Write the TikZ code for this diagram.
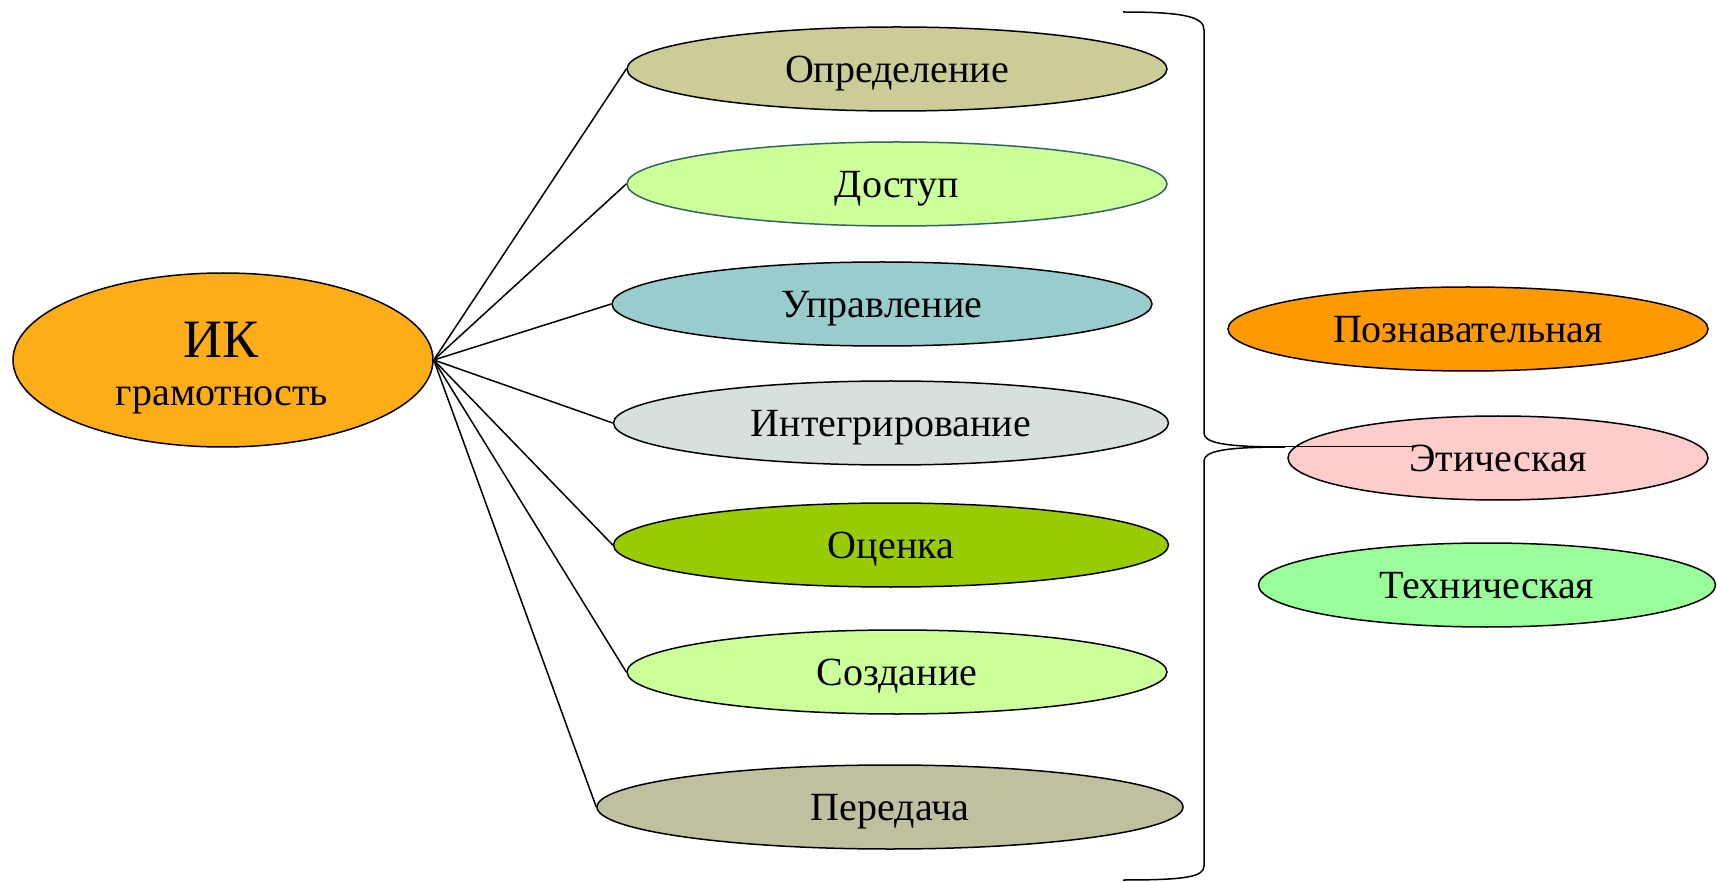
\documentclass[tikz,border=0pt]{standalone}
\usepackage{fontspec}
\setmainfont{Liberation Serif}
\usetikzlibrary{shapes.geometric}
\definecolor{cIK}{RGB}{252,173,24}
\definecolor{cOpr}{RGB}{204,204,153}
\definecolor{cDost}{RGB}{204,255,153}
\definecolor{cDostB}{RGB}{50,100,100}
\definecolor{cUpr}{RGB}{153,204,204}
\definecolor{cInt}{RGB}{215,223,223}
\definecolor{cOc}{RGB}{153,204,0}
\definecolor{cSoz}{RGB}{204,255,153}
\definecolor{cPer}{RGB}{190,192,160}
\definecolor{cPoz}{RGB}{255,153,0}
\definecolor{cEt}{RGB}{255,204,204}
\definecolor{cTeh}{RGB}{153,255,153}
\tikzset{
  oval/.style={ellipse, draw=black, line width=1.5pt, inner sep=0pt,
    minimum height=84pt, text height=27pt, text depth=0pt,
    font=\fontsize{40}{46}\selectfont},
  conn/.style={line width=1.5pt, black},
  lbl/.style={inner sep=0pt, anchor=base}
}
\begin{document}
\begin{tikzpicture}[x=1pt,y=-1pt]
\useasboundingbox (0,0) rectangle (1717,882);
% central
\node[ellipse, draw=black, line width=1.5pt, inner sep=0pt, fill=cIK,
  minimum width=420pt, minimum height=174pt] (ik) at (223,360) {};
\node[lbl, font=\fontsize{54}{60}\selectfont] (ik1) at (221,358) {ИК};
\node[lbl, font=\fontsize{40}{46}\selectfont] (ik2) at (222,406) {грамотность};
% middle column
\node[oval, fill=cOpr, minimum width=540pt] (opr) at (897,69) {Определение};
\node[oval, fill=cDost, draw=cDostB, minimum width=540pt] (dost) at (897,184) {Доступ};
\node[oval, fill=cUpr, minimum width=540pt] (upr) at (882,304) {Управление};
\node[oval, fill=cInt, minimum width=555pt] (int) at (891,423) {Интегрирование};
\node[oval, fill=cOc, minimum width=555pt] (oc) at (891,545) {Оценка};
\node[oval, fill=cSoz, minimum width=540pt] (soz) at (897,672) {Создание};
\node[oval, fill=cPer, minimum width=586pt] (per) at (890,807) {Передача};
% right column
\node[oval, fill=cPoz, minimum width=480pt] (poz) at (1468,329) {Познавательная};
\node[oval, fill=cEt, minimum width=420pt] (et) at (1498,458) {Этическая};
\node[oval, fill=cTeh, minimum width=457pt] (teh) at (1487,585) {Техническая};
% connectors
\foreach \n in {opr,dost,upr,int,oc,soz,per}
  \draw[conn] (ik.east) -- (\n.west);
% brace
\coordinate (tip) at (1285,447);
\coordinate (tend) at (1413,447);
\draw[conn, line join=round] (1123,12) .. controls (1185,12) and (1204,17) .. (1204,30)
  -- (1204,433) .. controls (1204,443) and (1225,447) .. (tip);
\draw[conn, line join=round] (tip) .. controls (1225,447) and (1204,451) .. (1204,461)
  -- (1204,866) .. controls (1204,877) and (1185,880) .. (1123,880);
\draw[line width=1pt] (tip) -- (tend);
\end{tikzpicture}
\end{document}
